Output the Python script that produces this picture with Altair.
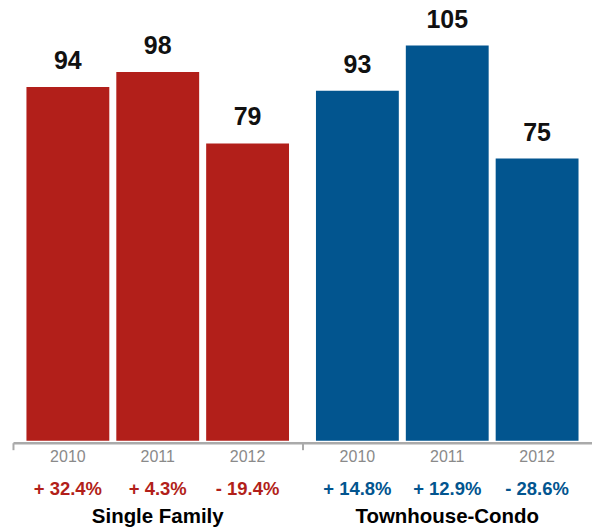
import altair as alt
import pandas as pd

groups = ["Single Family", "Townhouse-Condo"]
years = ["2010", "2011", "2012"]
values_sf = [94, 98, 79]
values_tc = [93, 105, 75]
pct_sf = ["+ 32.4%", "+ 4.3%", "- 19.4%"]
pct_tc = ["+ 14.8%", "+ 12.9%", "- 28.6%"]

rows = []
for g, vals, pcts in [(groups[0], values_sf, pct_sf), (groups[1], values_tc, pct_tc)]:
    for y, v, p in zip(years, vals, pcts):
        rows.append({"group": g, "year": y, "value": v, "pct": p})
df = pd.DataFrame(rows)
gdf = pd.DataFrame({"group": groups})

FONT = "Liberation Sans"
color_scale = alt.Scale(domain=groups, range=["#B21F1A", "#02558F"])
x_enc = alt.X("group:N", sort=groups,
              scale=alt.Scale(paddingInner=0, paddingOuter=0),
              axis=alt.Axis(title=None, labels=False, domainColor="#AAAAAA",
                            domainWidth=2.5, tickColor="#AAAAAA", tickWidth=2,
                            tickSize=7, bandPosition=0, offset=2, grid=False))
xo_enc = alt.XOffset("year:N", sort=years,
                     scale=alt.Scale(paddingInner=0.078, paddingOuter=0.15))
y_enc = alt.Y("value:Q", scale=alt.Scale(domain=[0, 117]), axis=None)

base = alt.Chart(df)

bars = base.mark_bar().encode(
    x=x_enc, xOffset=xo_enc, y=y_enc,
    color=alt.Color("group:N", scale=color_scale, legend=None),
)

vlabels = base.mark_text(font=FONT, fontSize=25, fontWeight="bold",
                         color="#111111", baseline="alphabetic", dy=-18).encode(
    x=x_enc, xOffset=xo_enc, y=y_enc, text="value:Q")

ylabels = base.mark_text(font=FONT, fontSize=16, color="#8A8A8A",
                         baseline="alphabetic").encode(
    x=x_enc, xOffset=xo_enc, y=alt.value(462), text="year:N")

plabels = base.mark_text(font=FONT, fontSize=18.5, fontWeight="bold",
                         baseline="alphabetic").encode(
    x=x_enc, xOffset=xo_enc, y=alt.value(495), text="pct:N",
    color=alt.Color("group:N", scale=color_scale, legend=None))

glabels = alt.Chart(gdf).mark_text(font=FONT, fontSize=20.5, fontWeight="bold",
                                   color="#000000", baseline="alphabetic").encode(
    x=x_enc, y=alt.value(523), text="group:N")

chart = alt.layer(bars, vlabels, ylabels, plabels, glabels).properties(
    width=580, height=441,
    autosize=alt.AutoSizeParams(type="none"),
    padding={"left": 13, "top": 0, "right": 0, "bottom": 90},
).configure_view(stroke=None)

chart.save("out.html", embed_options={"renderer": "svg", "actions": False})
